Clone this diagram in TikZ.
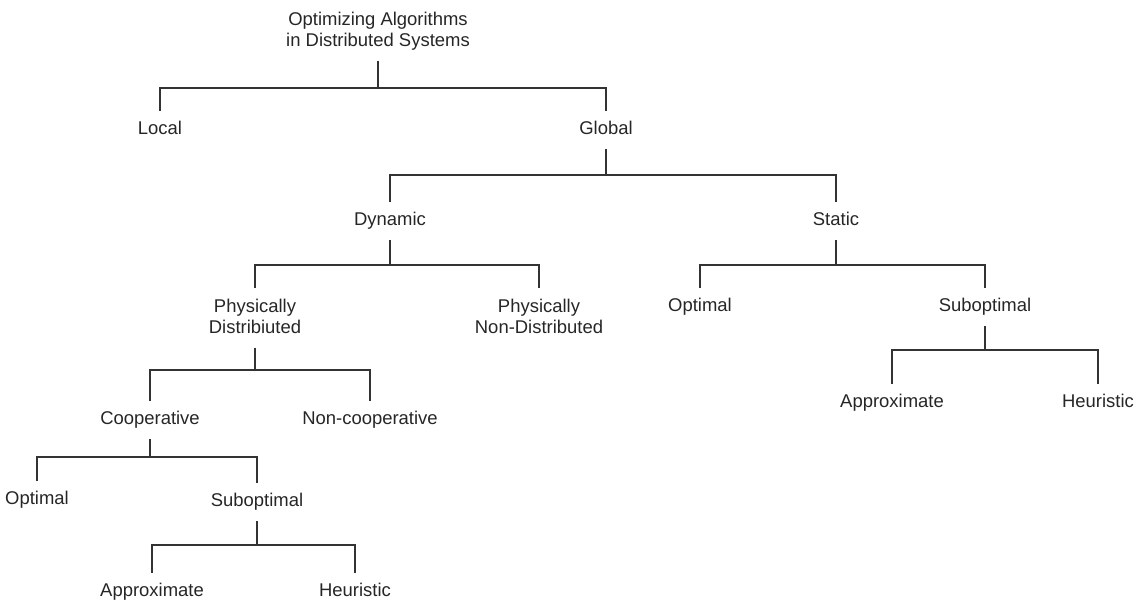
\documentclass[tikz,border=0pt]{standalone}
\usepackage{fontspec}
\setmainfont{Liberation Sans}
\begin{document}
\begin{tikzpicture}[x=0.02cm, y=-0.02cm,
  every node/.style = {font=\fontsize{10.5}{11.6}\selectfont,
    align=center, text=black!85, inner xsep=2pt, inner ysep=6pt,
    text depth=0.2em},
  link/.style = {draw=black!80, line width=0.7pt}]
  \useasboundingbox (0,0) rectangle (1139,605);
  \node (root)    at (378,31)  {Optimizing Algorithms\\in Distributed Systems};
  \node (local)   at (160,130) {Local};
  \node (global)  at (606,130) {Global};
  \node (dynamic) at (390,221) {Dynamic};
  \node (static)  at (836,221) {Static};
  \node (physd)   at (255,318) {Physically\\Distribiuted};
  \node (physnd)  at (539,318) {Physically\\Non-Distributed};
  \node (sopt)    at (700,307) {Optimal};
  \node (ssub)    at (985,307) {Suboptimal};
  \node (sappr)   at (892,403) {Approximate};
  \node (sheur)   at (1098,403) {Heuristic};
  \node (coop)    at (150,420) {Cooperative};
  \node (noncoop) at (370,420) {Non-cooperative};
  \node (copt)    at (37,500)  {Optimal};
  \node (csub)    at (257,502) {Suboptimal};
  \node (cappr)   at (152,592) {Approximate};
  \node (cheur)   at (355,592) {Heuristic};
  % forks: parent / left child / right child / height of the bar
  \foreach \p/\a/\b/\y in {root/local/global/88, global/dynamic/static/175,
      dynamic/physd/physnd/265, static/sopt/ssub/265, ssub/sappr/sheur/350,
      physd/coop/noncoop/370, coop/copt/csub/457, csub/cappr/cheur/545}
  {
    \draw[link] (\p.south) -- (\p.south |- 0,\y) coordinate (bar);
    \draw[link] (\a.north) |- (bar) -| (\b.north);
  }
\end{tikzpicture}
\end{document}
